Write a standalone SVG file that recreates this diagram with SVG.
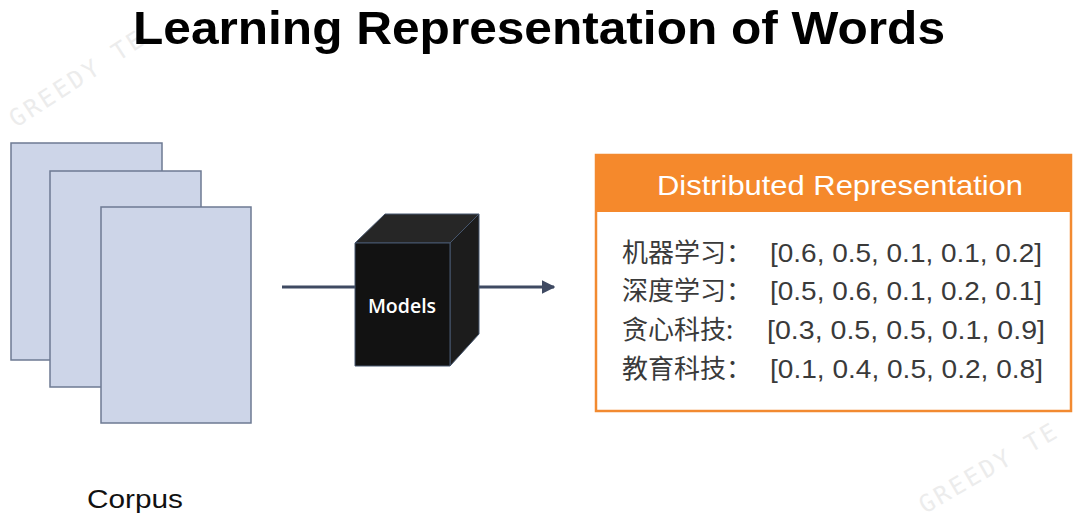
<svg xmlns="http://www.w3.org/2000/svg" width="1080" height="523" viewBox="0 0 1080 523">
  <style>
    .page { fill: #cdd5e8; stroke: #6d7a93; stroke-width: 1.5; }
    .edge { stroke: #46566e; stroke-width: 1; stroke-linejoin: round; }
    .conn { stroke: #3f4a62; stroke-width: 3; fill: none; }
    .body { font-family: "Liberation Sans", "Noto Sans CJK SC", sans-serif; font-size: 25px; fill: #3a3a3a; }
    .cjk { font-family: "Noto Sans CJK SC", sans-serif; font-size: 26px; fill: #3a3a3a; }
    .wm { font-family: "DejaVu Sans Mono", monospace; font-size: 24px; fill: #ececec; letter-spacing: 3px; }
  </style>
  <defs>
    <marker id="arrow" viewBox="0 0 10 10" refX="9" refY="5" markerWidth="4.5" markerHeight="4.5" orient="auto" markerUnits="strokeWidth">
      <path d="M0,0 L10,5 L0,10 Z" fill="#3f4a62"/>
    </marker>
  </defs>
  <rect width="1080" height="523" fill="#ffffff"/>

  <!-- watermarks -->
  <g id="watermarks">
    <text class="wm" transform="translate(16,128) rotate(-33)">GREEDY TE</text>
    <text class="wm" transform="translate(925,514) rotate(-30)">GREEDY TE</text>
  </g>

  <!-- title -->
  <text id="title" x="539" y="44" text-anchor="middle" textLength="812" lengthAdjust="spacingAndGlyphs" font-family="Liberation Sans, Arial, sans-serif" font-weight="bold" font-size="47" fill="#000">Learning Representation of Words</text>

  <!-- corpus node -->
  <g id="corpus">
    <rect class="page" x="11" y="143" width="151" height="217"/>
    <rect class="page" x="50" y="171" width="151" height="216"/>
    <rect class="page" x="101" y="207" width="150" height="216"/>
    <text x="87" y="508" textLength="96" lengthAdjust="spacingAndGlyphs" font-family="Liberation Sans, Arial, sans-serif" font-size="26" fill="#111">Corpus</text>
  </g>

  <!-- connectors -->
  <g id="connectors">
    <line class="conn" x1="282" y1="287" x2="356" y2="287"/>
    <line class="conn" x1="450" y1="287" x2="554" y2="287" marker-end="url(#arrow)"/>
  </g>

  <!-- models cube -->
  <g id="models">
    <polygon class="edge" points="355,243 385,214 479,214 450,243" fill="#262626"/>
    <polygon class="edge" points="450,243 479,214 479,334 450,366" fill="#1c1c1c"/>
    <rect class="edge" x="355" y="243" width="95" height="123" fill="#121212"/>
    <text x="402" y="313" text-anchor="middle" font-family="Open Sans, Liberation Sans, sans-serif" font-weight="600" font-size="19.5" fill="#ffffff">Models</text>
  </g>

  <!-- distributed representation box -->
  <g id="distributed">
    <rect x="596" y="155" width="475" height="256" fill="#ffffff" stroke="#f28a30" stroke-width="2.5"/>
    <rect x="596" y="155" width="475" height="57" fill="#f5892c"/>
    <text x="840" y="195" text-anchor="middle" textLength="366" lengthAdjust="spacingAndGlyphs" font-family="Liberation Sans, Arial, sans-serif" font-size="28" fill="#ffffff">Distributed Representation</text>

    <text class="cjk" x="622" y="262">机器学习：</text>
    <text class="body" x="770" y="262" textLength="272" lengthAdjust="spacingAndGlyphs">[0.6, 0.5, 0.1, 0.1, 0.2]</text>

    <text class="cjk" x="622" y="300">深度学习：</text>
    <text class="body" x="770" y="300" textLength="272" lengthAdjust="spacingAndGlyphs">[0.5, 0.6, 0.1, 0.2, 0.1]</text>

    <text class="cjk" x="622" y="339">贪心科技:</text>
    <text class="body" x="767" y="339" textLength="278" lengthAdjust="spacingAndGlyphs">[0.3, 0.5, 0.5, 0.1, 0.9]</text>

    <text class="cjk" x="622" y="378">教育科技：</text>
    <text class="body" x="770" y="378" textLength="273" lengthAdjust="spacingAndGlyphs">[0.1, 0.4, 0.5, 0.2, 0.8]</text>
  </g>
</svg>
